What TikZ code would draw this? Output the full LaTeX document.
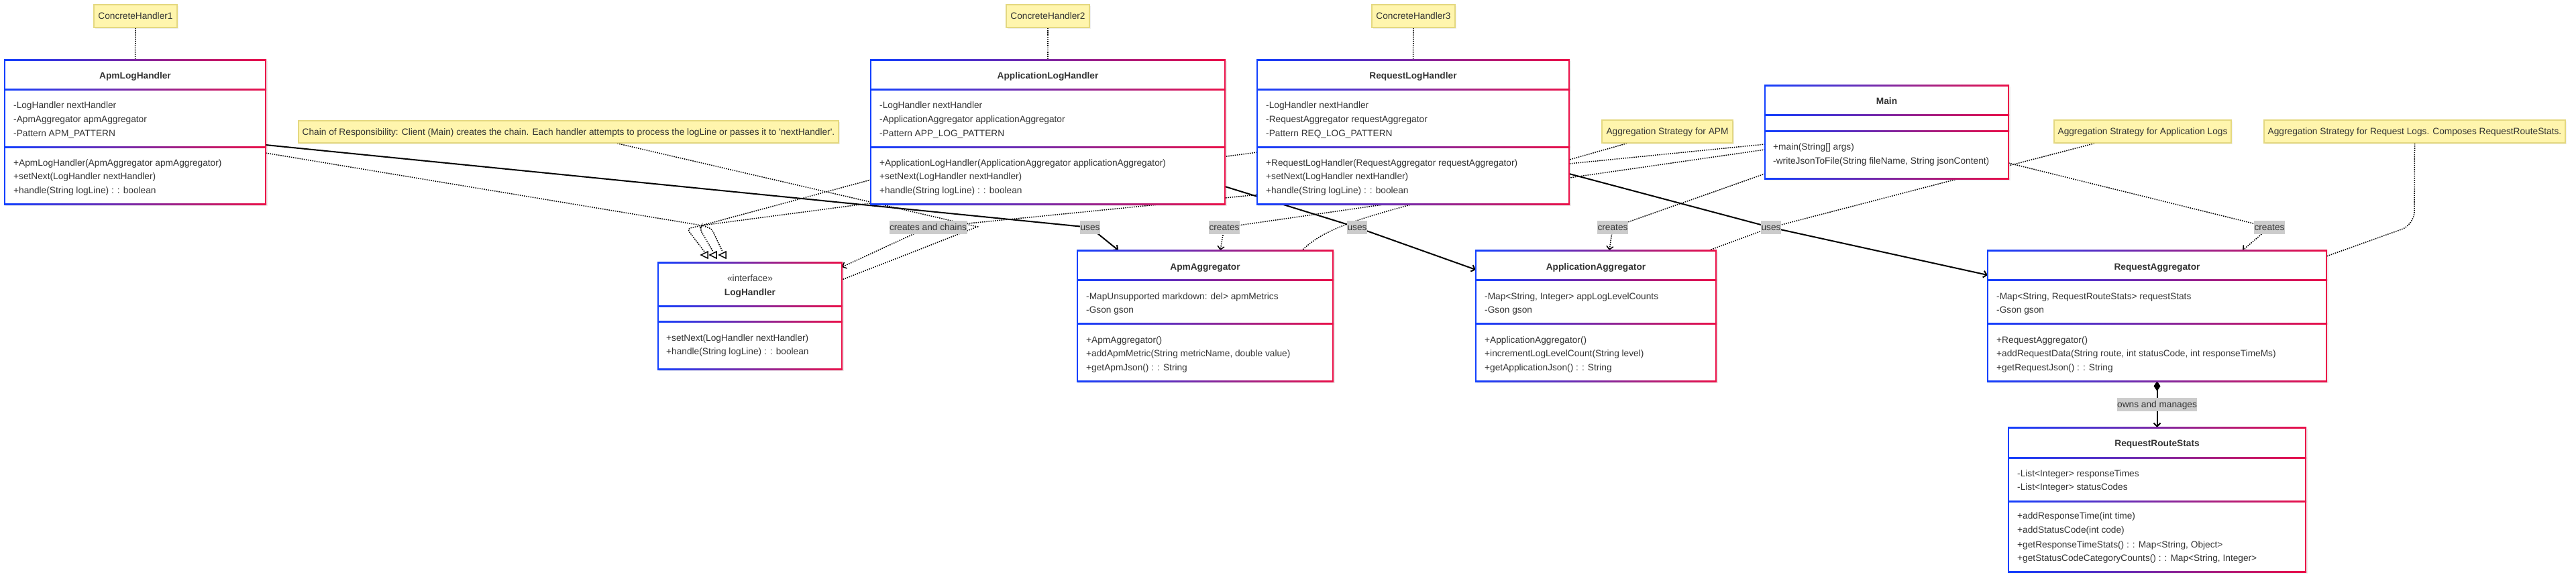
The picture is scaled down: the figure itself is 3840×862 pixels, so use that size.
\documentclass[tikz,border=0pt]{standalone}
\usepackage{fontspec}
\setmainfont{Liberation Sans}
\usetikzlibrary{arrows.meta,fit,shadows}
\definecolor{cblue}{RGB}{18,64,255}
\definecolor{cred}{RGB}{235,16,72}
\definecolor{textc}{RGB}{51,51,51}
\definecolor{notefill}{RGB}{255,245,173}
\definecolor{notebord}{RGB}{228,216,128}
\definecolor{lblgray}{RGB}{204,204,204}
\pgfdeclarelayer{bg}
\pgfdeclarelayer{edges}
\pgfsetlayers{bg,edges,main}
\newcommand{\dfont}{\fontsize{13.7pt}{16pt}\selectfont}
% left, top, right, bottom, sep1, sep2
\newcommand{\umlframe}[6]{%
  \fill[black,opacity=0.07] ({#1+1},{#2+2}) rectangle ({#3+3},{#4+3});
  \fill[white] (#1,#2) rectangle (#3,#4);
  \shade[left color=cblue,right color=cred] ({#1-1},{#2-1}) rectangle ({#3+1},{#2+1});
  \shade[left color=cblue,right color=cred] ({#1-1},{#4-1}) rectangle ({#3+1},{#4+1});
  \fill[cblue] ({#1-1},{#2-1}) rectangle ({#1+1},{#4+1});
  \fill[cred] ({#3-1},{#2-1}) rectangle ({#3+1},{#4+1});
  \shade[left color=cblue,right color=cred] ({#1-1},{#5-1}) rectangle ({#3+1},{#5+1});
  \shade[left color=cblue,right color=cred] ({#1-1},{#6-1}) rectangle ({#3+1},{#6+1});
}
\newcommand{\mline}[4]{\node[mtext] (#1) at (#2,#3) {#4};}
\newcommand{\tline}[4]{\node[ttext] (#1) at (#2,#3) {#4};}
\begin{document}
\begin{tikzpicture}[x=1pt,y=-1pt,
  dotl/.style={line width=1.5pt, dash pattern=on 1.6pt off 1.6pt},
  solidl/.style={line width=2pt},
  >={Straight Barb[length=5pt,width=10pt]},
  mtext/.style={anchor=west, inner sep=0pt, text height=9.8pt, text depth=0pt, font=\dfont, text=textc},
  ttext/.style={anchor=center, inner sep=0pt, text height=9.8pt, text depth=0pt, font=\dfont\bfseries, text=textc},
  note/.style={draw=notebord, line width=1.5pt, fill=notefill, inner sep=0pt, font=\dfont, text=textc, text height=9.8pt, text depth=0pt, drop shadow={opacity=0.12, shadow xshift=1.5pt, shadow yshift=-2pt}},
  elabel/.style={fill=lblgray, inner xsep=0.5pt, inner ysep=0pt, minimum height=20pt, font=\dfont, text=textc, text height=9.8pt, text depth=0pt},
  box/.style={inner sep=0pt, outer sep=0pt}]
\begin{pgfonlayer}{bg}
\fill[white] (0,0) rectangle (3840,862);
\end{pgfonlayer}
\useasboundingbox (0,0) rectangle (3840,862);

% ---------- class boxes (named areas) ----------
\node[box, fit={(7,89) (396,304)}] (apmlh) {};
\node[box, fit={(1298,89) (1826,304)}] (applh) {};
\node[box, fit={(1874,89) (2339,304)}] (reqlh) {};
\node[box, fit={(981,391) (1255,550)}] (lh) {};
\node[box, fit={(2631,127) (2994,266)}] (main) {};
\node[box, fit={(1606,373) (1987,568)}] (apmagg) {};
\node[box, fit={(2200,373) (2558,568)}] (appagg) {};
\node[box, fit={(2963,373) (3468,568)}] (reqagg) {};
\node[box, fit={(2994,637) (3437,852)}] (rrs) {};

% ---------- notes ----------
\node[note, minimum width=124pt, minimum height=34pt] (n1) at (202,24) {ConcreteHandler1};
\node[note, minimum width=124pt, minimum height=34pt] (n2) at (1562,24) {ConcreteHandler2};
\node[note, minimum width=124pt, minimum height=34pt] (n3) at (2107,24) {ConcreteHandler3};
\node[note, minimum width=805pt, minimum height=33pt] (n4) at (847.5,196.5) {Chain of Responsibility: Client (Main) creates the chain. Each handler attempts to process the logLine or passes it to \textquotesingle nextHandler\textquotesingle.};
\node[note, minimum width=195pt, minimum height=34pt] (n5) at (2485.5,196) {Aggregation Strategy for APM};
\node[note, minimum width=264pt, minimum height=34pt] (n6) at (3194,196) {Aggregation Strategy for Application Logs};
\node[note, minimum width=449pt, minimum height=34pt] (n7) at (3599.5,196) {Aggregation Strategy for Request Logs. Composes RequestRouteStats.};

% ---------- connectors ----------
\begin{pgfonlayer}{edges}
% realization to LogHandler
\draw[dotl, rounded corners=5pt] (apmlh.east |- 0,228) -- (1046,336) -- (1024,341) -- (1050,375);
\draw[dotl, rounded corners=5pt] (applh.west |- 0,268) -- (1046,336) -- (1043,341) -- (1063,375);
\draw[dotl, rounded corners=5pt] (reqlh.west |- 0,227) -- (1046,336) -- (1061,341) -- (1077,375);
\foreach \cx in {1050,1063,1077}{
  \draw[line width=1.5pt, fill=white, line join=miter] (\cx-5,380) -- (\cx+5,375) -- (\cx+5,385) -- cycle;
}
% uses
\draw[solidl, ->] (apmlh.east |- 0,216) -- (1625,339) -- (1667,0 |- apmagg.north);
\draw[solidl, ->] (applh.east |- 0,278) -- (2023,339) -- (appagg.west |- 0,402);
\draw[solidl, ->] (reqlh.east |- 0,259) -- (2640,339) -- (reqagg.west |- 0,410);
% creates
\draw[dotl, ->] (main.west |- 0,215) -- (1383,339) -- (lh.east |- 0,398);
\draw[dotl, ->] (main.west |- 0,223) -- (1825,339) -- (1819,0 |- apmagg.north);
\draw[dotl, ->] (main.west |- 0,259) -- (2404,339) -- (2399,0 |- appagg.north);
\draw[dotl, ->] (main.east |- 0,243) -- (3383,339) -- (3343,0 |- reqagg.north);
% composition
\draw[solidl, {Diamond[length=15pt,width=10pt]}-{Straight Barb[length=5pt,width=10pt]}] (reqagg.south) -- (rrs.north);
% note links
\draw[dotl] (n1.south) -- (apmlh.north);
\draw[dotl] (n2.south) -- (applh.north);
\draw[dotl] (n3.south) -- (reqlh.north);
\draw[dotl] (920,0 |- n4.south) -- (1457,338) -- (lh.east |- 0,417);
\draw[dotl] (2425,0 |- n5.south) -- (2107,304) .. controls (2010,330) and (1970,345) .. (1941,0 |- apmagg.north);
\draw[dotl] (3122,0 |- n6.south) -- (2640,339) -- (2548,0 |- appagg.north);
\draw[dotl, rounded corners=20pt] (n7.south) -- (3599,335) -- (reqagg.east |- 0,382);
\end{pgfonlayer}

% ---------- ApmLogHandler ----------
\umlframe{7}{89}{396}{304}{133}{219}
\tline{apmlh-t}{201.5}{113}{ApmLogHandler}
\mline{apmlh-a1}{20}{157}{-LogHandler nextHandler}
\mline{apmlh-a2}{20}{178}{-ApmAggregator apmAggregator}
\mline{apmlh-a3}{20}{199}{-Pattern APM\_PATTERN}
\mline{apmlh-m1}{20}{243}{+ApmLogHandler(ApmAggregator apmAggregator)}
\mline{apmlh-m2}{20}{263}{+setNext(LogHandler nextHandler)}
\mline{apmlh-m3}{20}{284}{+handle(String logLine) : : boolean}

% ---------- ApplicationLogHandler ----------
\umlframe{1298}{89}{1826}{304}{133}{219}
\tline{applh-t}{1562}{113}{ApplicationLogHandler}
\mline{applh-a1}{1311}{157}{-LogHandler nextHandler}
\mline{applh-a2}{1311}{178}{-ApplicationAggregator applicationAggregator}
\mline{applh-a3}{1311}{199}{-Pattern APP\_LOG\_PATTERN}
\mline{applh-m1}{1311}{243}{+ApplicationLogHandler(ApplicationAggregator applicationAggregator)}
\mline{applh-m2}{1311}{263}{+setNext(LogHandler nextHandler)}
\mline{applh-m3}{1311}{284}{+handle(String logLine) : : boolean}

% ---------- RequestLogHandler ----------
\umlframe{1874}{89}{2339}{304}{133}{219}
\tline{reqlh-t}{2106.5}{113}{RequestLogHandler}
\mline{reqlh-a1}{1887}{157}{-LogHandler nextHandler}
\mline{reqlh-a2}{1887}{178}{-RequestAggregator requestAggregator}
\mline{reqlh-a3}{1887}{199}{-Pattern REQ\_LOG\_PATTERN}
\mline{reqlh-m1}{1887}{243}{+RequestLogHandler(RequestAggregator requestAggregator)}
\mline{reqlh-m2}{1887}{263}{+setNext(LogHandler nextHandler)}
\mline{reqlh-m3}{1887}{284}{+handle(String logLine) : : boolean}

% ---------- LogHandler ----------
\umlframe{981}{391}{1255}{550}{456}{479}
\node[mtext, anchor=center] (lh-s) at (1118,415) {«interface»};
\tline{lh-t}{1118}{436}{LogHandler}
\mline{lh-m1}{993}{504}{+setNext(LogHandler nextHandler)}
\mline{lh-m2}{993}{524}{+handle(String logLine) : : boolean}

% ---------- Main ----------
\umlframe{2631}{127}{2994}{266}{171}{195}
\tline{main-t}{2812.5}{151}{Main}
\mline{main-m1}{2643}{219}{+main(String[] args)}
\mline{main-m2}{2643}{240}{-writeJsonToFile(String fileName, String jsonContent)}

% ---------- ApmAggregator ----------
\umlframe{1606}{373}{1987}{568}{417}{482}
\tline{apmagg-t}{1796.5}{398}{ApmAggregator}
\mline{apmagg-a1}{1619}{442}{-MapUnsupported markdown: del> apmMetrics}
\mline{apmagg-a2}{1619}{462}{-Gson gson}
\mline{apmagg-m1}{1619}{507}{+ApmAggregator()}
\mline{apmagg-m2}{1619}{527}{+addApmMetric(String metricName, double value)}
\mline{apmagg-m3}{1619}{548}{+getApmJson() : : String}

% ---------- ApplicationAggregator ----------
\umlframe{2200}{373}{2558}{568}{417}{482}
\tline{appagg-t}{2379}{398}{ApplicationAggregator}
\mline{appagg-a1}{2213}{442}{-Map<String, Integer> appLogLevelCounts}
\mline{appagg-a2}{2213}{462}{-Gson gson}
\mline{appagg-m1}{2213}{507}{+ApplicationAggregator()}
\mline{appagg-m2}{2213}{527}{+incrementLogLevelCount(String level)}
\mline{appagg-m3}{2213}{548}{+getApplicationJson() : : String}

% ---------- RequestAggregator ----------
\umlframe{2963}{373}{3468}{568}{417}{482}
\tline{reqagg-t}{3215.5}{398}{RequestAggregator}
\mline{reqagg-a1}{2976}{442}{-Map<String, RequestRouteStats> requestStats}
\mline{reqagg-a2}{2976}{462}{-Gson gson}
\mline{reqagg-m1}{2976}{507}{+RequestAggregator()}
\mline{reqagg-m2}{2976}{527}{+addRequestData(String route, int statusCode, int responseTimeMs)}
\mline{reqagg-m3}{2976}{548}{+getRequestJson() : : String}

% ---------- RequestRouteStats ----------
\umlframe{2994}{637}{3437}{852}{682}{747}
\tline{rrs-t}{3215.5}{661}{RequestRouteStats}
\mline{rrs-a1}{3007}{706}{-List<Integer> responseTimes}
\mline{rrs-a2}{3007}{726}{-List<Integer> statusCodes}
\mline{rrs-m1}{3007}{769}{+addResponseTime(int time)}
\mline{rrs-m2}{3007}{790}{+addStatusCode(int code)}
\mline{rrs-m3}{3007}{812}{+getResponseTimeStats() : : Map<String, Object>}
\mline{rrs-m4}{3007}{832}{+getStatusCodeCategoryCounts() : : Map<String, Integer>}

% ---------- edge labels ----------
\node[elabel] (l0) at (1383.5,339) {creates and chains};
\node[elabel] (l1) at (1625,339) {uses};
\node[elabel] (l2) at (1825,339) {creates};
\node[elabel] (l3) at (2023,339) {uses};
\node[elabel] (l4) at (2404,339) {creates};
\node[elabel] (l5) at (2640,339) {uses};
\node[elabel] (l6) at (3383,339) {creates};
\node[elabel] (l7) at (3215.5,603) {owns and manages};
\end{tikzpicture}
\end{document}
